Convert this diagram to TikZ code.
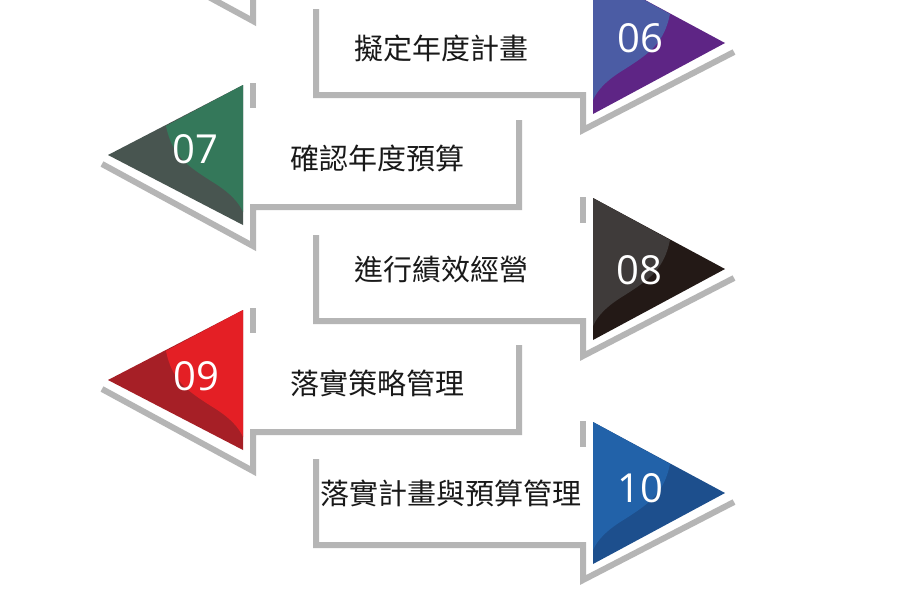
\documentclass[tikz,border=0pt]{standalone}
\usepackage{fontspec}
\setsansfont{Open Sans}
\newfontfamily\cjkfont{Noto Sans CJK TC}
\usepackage{tikz}

\definecolor{shadowgray}{HTML}{B5B5B5}
\definecolor{lightA}{HTML}{4B5CA4}
\definecolor{darkA}{HTML}{5E2585}
\definecolor{lightB}{HTML}{34785A}
\definecolor{darkB}{HTML}{485550}
\definecolor{lightC}{HTML}{3F3B3A}
\definecolor{darkC}{HTML}{231916}
\definecolor{lightD}{HTML}{E41F25}
\definecolor{darkD}{HTML}{A61F26}
\definecolor{lightE}{HTML}{2262A9}
\definecolor{darkE}{HTML}{1D4F8D}

\begin{document}
\begin{tikzpicture}[
    x=1pt, y=-1pt,
    shadow/.style={draw=shadowgray, line width=6pt},
    steptext/.style={font={\cjkfont\fontsize{29}{32}\selectfont}, text=black!90, inner sep=0pt},
    stepnum/.style={font={\sffamily\fontsize{40}{44}\selectfont}, text=white, inner sep=0pt}
]
\useasboundingbox (0,0) rectangle (900,600);
\fill[white] (0,0) rectangle (900,600);
\clip (0,0) rectangle (900,600);

% 05 (only its shadow shows)
\begin{scope}[shift={(0,-70)}]
\draw[shadow] (519,-35) -- (519,52) -- (253,52) -- (253,91) -- (102,9);
\end{scope}

% 06
\begin{scope}[shift={(0,43)}]
\draw[shadow] (583,-72) -- (583,-46);
\draw[shadow] (316,-34) -- (316,52) -- (583,52) -- (583,87) -- (734,9);
\fill[darkA] (593,-71) -- (725,0) -- (593,71) -- cycle;
\fill[lightA] (593,-71) -- (670,-29) .. controls (664,0) and (650,10) .. (625,26)
    .. controls (605,38) and (597,48) .. (593,57) -- cycle;
\node[steptext] (s06) at (441,5) {擬定年度計畫};
\node[stepnum] (n06) at (640,-5) {06};
\end{scope}

% 07
\begin{scope}[shift={(0,155)}]
\draw[shadow] (253,-72) -- (253,-47);
\draw[shadow] (519,-35) -- (519,52) -- (253,52) -- (253,91) -- (102,9);
\fill[darkB] (243,-70) -- (108,0) -- (243,70) -- cycle;
\fill[lightB] (243,-70) -- (166,-29) .. controls (172,0) and (186,10) .. (211,26)
    .. controls (231,38) and (239,48) .. (243,57) -- cycle;
\node[steptext] (s07) at (377,3) {確認年度預算};
\node[stepnum] (n07) at (195,-6) {07};
\end{scope}

% 08
\begin{scope}[shift={(0,269)}]
\draw[shadow] (583,-72) -- (583,-46);
\draw[shadow] (316,-34) -- (316,52) -- (583,52) -- (583,87) -- (734,9);
\fill[darkC] (593,-71) -- (725,0) -- (593,71) -- cycle;
\fill[lightC] (593,-71) -- (670,-29) .. controls (664,0) and (650,10) .. (625,26)
    .. controls (605,38) and (597,48) .. (593,57) -- cycle;
\node[steptext] (s08) at (441,0) {進行績效經營};
\node[stepnum] (n08) at (639,1) {08};
\end{scope}

% 09
\begin{scope}[shift={(0,380)}]
\draw[shadow] (253,-72) -- (253,-47);
\draw[shadow] (519,-35) -- (519,52) -- (253,52) -- (253,91) -- (102,9);
\fill[darkD] (243,-70) -- (108,0) -- (243,70) -- cycle;
\fill[lightD] (243,-70) -- (166,-29) .. controls (172,0) and (186,10) .. (211,26)
    .. controls (231,38) and (239,48) .. (243,57) -- cycle;
\node[steptext] (s09) at (377,3) {落實策略管理};
\node[stepnum] (n09) at (196,-4) {09};
\end{scope}

% 10
\begin{scope}[shift={(0,493)}]
\draw[shadow] (583,-72) -- (583,-46);
\draw[shadow] (316,-34) -- (316,52) -- (583,52) -- (583,87) -- (734,9);
\fill[darkE] (593,-71) -- (725,0) -- (593,71) -- cycle;
\fill[lightE] (593,-71) -- (670,-29) .. controls (664,0) and (650,10) .. (625,26)
    .. controls (605,38) and (597,48) .. (593,57) -- cycle;
\node[steptext] (s10) at (451,0) {落實計畫與預算管理};
\node[stepnum] (n10) at (640,-5) {10};
\end{scope}
\end{tikzpicture}
\end{document}
